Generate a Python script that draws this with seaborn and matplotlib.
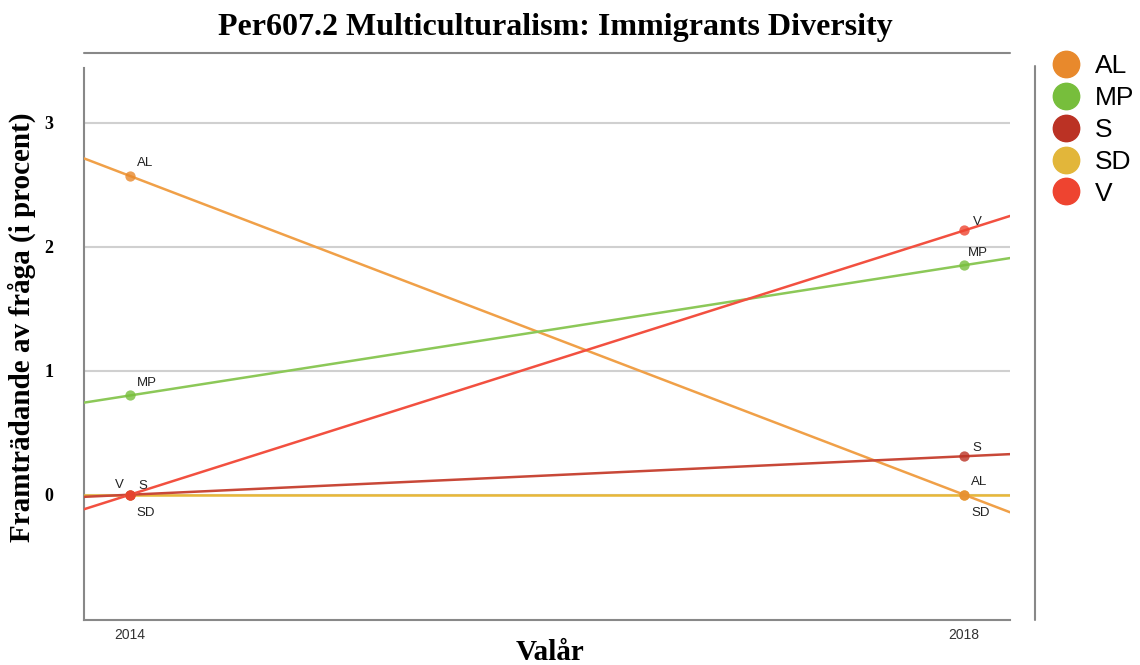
import matplotlib
matplotlib.use("Agg")
import matplotlib.pyplot as plt
from matplotlib.lines import Line2D
import seaborn as sns
import pandas as pd

# ---- data ----
years = [2014, 2018]
parties = ["AL", "MP", "S", "SD", "V"]
al_values = [2.57, 0.0]
mp_values = [0.80, 1.85]
s_values = [0.0, 0.31]
sd_values = [0.0, 0.0]
v_values = [0.0, 2.13]
yticks = [0, 1, 2, 3]

colors = {"AL": "#E8892C", "MP": "#77BE3C", "S": "#BB3224", "SD": "#E2B63A", "V": "#EE4430"}
line_colors = {"AL": "#F0A048", "MP": "#8CC858", "S": "#C84838", "SD": "#E8B838", "V": "#F25040"}

values = {"AL": al_values, "MP": mp_values, "S": s_values, "SD": sd_values, "V": v_values}
rows = []
for p in parties:
    for y, v in zip(years, values[p]):
        rows.append({"party": p, "year": y, "value": v})
df = pd.DataFrame(rows)

# label offsets in points (style only)
label_off = {
    ("AL", 2014): (5, 7), ("MP", 2014): (5, 7), ("S", 2014): (6, 4), ("SD", 2014): (5, -15), ("V", 2014): (-11, 5),
    ("AL", 2018): (5, 7), ("MP", 2018): (3, 7), ("S", 2018): (6, 4), ("SD", 2018): (5, -15), ("V", 2018): (6, 4),
}

sns.set_theme(style="white")
plt.rcParams["text.color"] = "black"
fig = plt.figure(figsize=(11.4, 6.65), dpi=100)
ax = fig.add_axes([84 / 1140, 45 / 665, 926 / 1140, 552 / 665])
ax.set_xlim(2013.78, 2018.22)
ax.set_ylim(-1.01, 3.44)

for yt in yticks:
    ax.axhline(yt, color="#d0d0d0", lw=1.5, zorder=0)

order = ["SD", "AL", "MP", "S", "V"]
for p in order:
    sub = df[df.party == p]
    sns.regplot(data=sub, x="year", y="value", ax=ax, ci=None, truncate=False,
                scatter_kws=dict(s=55, color=colors[p], zorder=4, linewidths=0),
                line_kws=dict(color=line_colors[p], lw=1.8, zorder=3))
for p in parties:
    sub = df[df.party == p]
    for _, r in sub.iterrows():
        ax.annotate(p, (r.year, r.value), xytext=label_off[(p, r.year)], textcoords="offset points",
                    fontsize=9.5, family="Liberation Sans", color="#222222")

ax.set_xticks(years)
ax.set_xticklabels([str(y) for y in years], fontsize=10, family="Liberation Sans", color="#333333")
ax.set_yticks(yticks)
ax.set_yticklabels([str(t) for t in yticks], fontsize=13, family="Liberation Serif", fontweight="bold",
                   color="black")
ax.tick_params(axis="y", length=0, pad=22)
ax.tick_params(axis="x", length=0, pad=6)
ax.set_xlabel("")
ax.set_ylabel("")
for s in ["top", "right"]:
    ax.spines[s].set_visible(False)
for s in ["left", "bottom"]:
    ax.spines[s].set_color("#888888")
    ax.spines[s].set_linewidth(1.5)

fig.text(555 / 1140, 1 - 27 / 665, "Per607.2 Multiculturalism: Immigrants Diversity", ha="center", va="center",
         fontsize=23, family="Liberation Serif", fontweight="bold", color="black")
fig.text(550 / 1140, 1 - 653 / 665, "Valår", ha="center", va="center",
         fontsize=21, family="Liberation Serif", fontweight="bold", color="black")
fig.text(22 / 1140, 1 - 327 / 665, "Framträdande av fråga (i procent)", ha="center", va="center", rotation=90,
         fontsize=21, family="Liberation Serif", fontweight="bold", color="black")

fig.add_artist(Line2D([84 / 1140, 1010 / 1140], [1 - 53 / 665, 1 - 53 / 665], color="#888888", lw=1.5))
fig.add_artist(Line2D([1035 / 1140, 1035 / 1140], [1 - 66 / 665, 1 - 620 / 665], color="#888888", lw=1.5))

handles = [Line2D([], [], marker="o", linestyle="", markersize=19, color=colors[p]) for p in parties]
fig.legend(handles, parties, loc="upper left", bbox_to_anchor=(1050 / 1140, 1 - 54 / 665), frameon=False,
           prop=dict(family="Liberation Sans", size=19), handletextpad=0.5, labelspacing=0.3,
           handlelength=1.2, borderaxespad=0, borderpad=0)

fig.savefig("out.png", dpi=100)
